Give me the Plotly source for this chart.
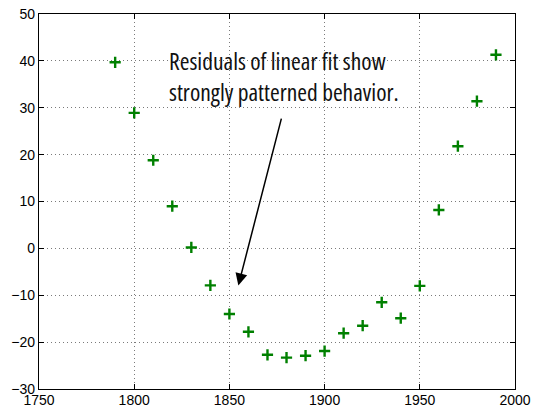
import plotly.graph_objects as go

# Census years and the residuals left after a linear fit
years = [1790, 1800, 1810, 1820, 1830, 1840, 1850, 1860, 1870, 1880, 1890,
         1900, 1910, 1920, 1930, 1940, 1950, 1960, 1970, 1980, 1990]
residuals = [39.7, 28.9, 18.8, 9.0, 0.2, -7.9, -14.0, -17.8, -22.7, -23.3, -22.9,
             -21.9, -18.1, -16.5, -11.5, -14.9, -8.0, 8.2, 21.8, 31.4, 41.3]

x_ticks = [1750, 1800, 1850, 1900, 1950, 2000]
y_ticks = [-30, -20, -10, 0, 10, 20, 30, 40, 50]

note_lines = ["Residuals of linear fit show", "strongly patterned behavior."]
arrow_tail = (1877.5, 28.0)
arrow_tip = (1854.7, -7.9)

fig = go.Figure()
fig.add_trace(go.Scatter(
    x=years, y=residuals, mode="markers",
    marker=dict(symbol="cross-thin", size=8, color="#008000",
                line=dict(color="#008000", width=2.4)),
    showlegend=False,
))

axis_common = dict(
    showline=True, linecolor="black", linewidth=1.3, mirror="ticks",
    ticks="inside", ticklen=5, tickcolor="black", tickwidth=1,
    showgrid=True, gridcolor="#7a7a7a", griddash="1px,3px", gridwidth=1,
    zeroline=False, automargin=False,
    tickfont=dict(family="Liberation Sans, Arial, sans-serif", size=14, color="black"),
)

fig.update_xaxes(range=[1750, 2000], tickvals=x_ticks, ticklabelstandoff=-2, **axis_common)
fig.update_yaxes(range=[-30, 50], tickvals=y_ticks, **axis_common)

# Arrow from the note down to the residual trough
fig.add_annotation(
    x=arrow_tip[0], y=arrow_tip[1], ax=arrow_tail[0], ay=arrow_tail[1],
    xref="x", yref="y", axref="x", ayref="y",
    text="", showarrow=True, arrowhead=2, arrowsize=1.6, arrowwidth=1.5,
    arrowcolor="black",
)

# Two-line note in a condensed face
note_html = "<br>".join(
    f'<span style="font-stretch:75%">{line}</span>' for line in note_lines
)
fig.add_annotation(
    x=1817.3, y=36.6, xref="x", yref="y", xanchor="left", yanchor="middle",
    text=note_html, showarrow=False, align="left",
    font=dict(family="Open Sans, DejaVu Sans Condensed, sans-serif",
              size=23.5, color="#111"),
)

fig.update_layout(
    width=541, height=409,
    margin=dict(l=39, r=26, t=14, b=20),
    paper_bgcolor="white", plot_bgcolor="white",
)

fig.write_html("out.html")
